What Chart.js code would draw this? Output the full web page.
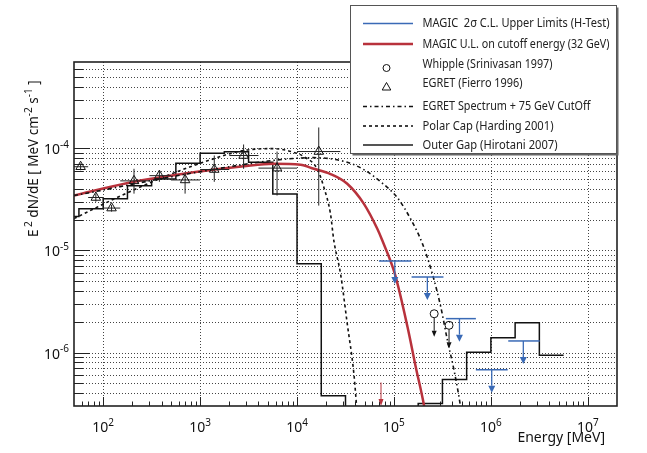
<!DOCTYPE html>
<html>
<head>
<meta charset="utf-8">
<script src="https://cdn.jsdelivr.net/npm/chart.js@4.4.1/dist/chart.umd.min.js"></script>
<style>
  html, body { margin: 0; padding: 0; background: #fff; }
</style>
</head>
<body>
<canvas id="sed" width="647" height="453"></canvas>
<script>
// Crab pulsar spectrum, energy in MeV, E^2 dN/dE in MeV cm^-2 s^-1

// EGRET (Fierro 1996)
const egretE   = [58.5, 84, 122, 208, 380, 700, 1400, 2810, 6220, 16750];
const egretF   = [6.6e-5, 3.3e-5, 2.6e-5, 4.8e-5, 5.4e-5, 4.9e-5, 6.2e-5, 8.5e-5, 6.4e-5, 9.3e-5];
const egretFLo = [6.1e-5, 3.0e-5, 2.4e-5, 3.6e-5, 4.7e-5, 3.6e-5, 4.7e-5, 6.3e-5, 3.45e-5, 2.75e-5];
const egretFHi = [7.1e-5, 3.6e-5, 2.8e-5, 6.3e-5, 6.05e-5, 5.8e-5, 8.5e-5, 1.09e-4, 9.3e-5, 1.6e-4];
const egretELo = [50, 70, 100, 150, 300, 500, 1000, 2000, 4000, 10000];
const egretEHi = [70, 100, 150, 300, 500, 1000, 2000, 4000, 10000, 28000];

// Whipple (Srinivasan 1997) upper limits
const whippleE = [2.6e5, 3.7e5];
const whippleF = [2.4e-6, 1.85e-6];

// MAGIC 2 sigma upper limits (H-Test)
const magicE   = [1.02e5, 2.21e5, 4.74e5, 1.02e6, 2.16e6];
const magicELo = [7.0e4, 1.52e5, 3.43e5, 7.0e5, 1.51e6];
const magicEHi = [1.51e5, 3.24e5, 7.0e5, 1.49e6, 3.19e6];
const magicF   = [7.9e-6, 5.5e-6, 2.15e-6, 6.8e-7, 1.3e-6];

// MAGIC U.L. on cutoff energy: arrow and curve
const cutoffArrowE = [7.35e4];
const cutoffArrowF = [5.1e-7];
const cutoffCurveE = [50, 175, 855, 2810, 5740, 10840, 14900, 22150, 32950, 48980, 67300, 75860, 1.02e5, 1.38e5, 1.68e5, 2.04e5, 2.3e5];
const cutoffCurveF = [3.45e-5, 4.55e-5, 5.82e-5, 6.67e-5, 7.05e-5, 6.89e-5, 6.3e-5, 5.6e-5, 4.5e-5, 2.86e-5, 1.63e-5, 1.25e-5, 5.92e-6, 1.78e-6, 7.2e-7, 3.05e-7, 1.5e-7];

// EGRET spectrum + 75 GeV cutoff
const egretCutE = [50, 100, 200, 500, 1000, 2000, 5000, 10000, 15000, 33000, 50000, 73000, 1.08e5, 1.5e5, 1.97e5, 2.49e5, 3.04e5, 3.56e5, 4.17e5, 4.8e5, 5.3e5];
const egretCutF = [3.45e-5, 3.9e-5, 4.45e-5, 5.25e-5, 5.9e-5, 6.6e-5, 7.5e-5, 8.0e-5, 8.1e-5, 7.3e-5, 6.1e-5, 4.7e-5, 3.3e-5, 2.0e-5, 1.16e-5, 5.9e-6, 2.8e-6, 1.32e-6, 6.7e-7, 3.2e-7, 1.6e-7];

// Polar Cap (Harding 2001)
const polarE = [50, 132, 386, 1000, 2790, 5700, 9180, 12000, 16130, 18900, 22130, 23970, 28110, 32960, 38570, 41100, 44000];
const polarF = [2.05e-5, 3.22e-5, 5.06e-5, 7.13e-5, 9.5e-5, 9.93e-5, 9.14e-5, 8.2e-5, 6.3e-5, 4.16e-5, 2.29e-5, 1.25e-5, 5.92e-6, 1.92e-6, 6.24e-7, 3.05e-7, 1.4e-7];

// Outer Gap (Hirotani 2007), histogram: bin edges and bin values
const outerGapEdges = [31.6, 56.2, 100, 178, 316, 562, 1000, 1778, 3162, 5623, 10000, 17783, 31623, 56234, 100000, 177828, 316228, 562341, 1000000, 1778279, 3162278, 5623413];
const outerGapF = [2.15e-5, 2.56e-5, 3.2e-5, 4.31e-5, 5.02e-5, 7.13e-5, 8.93e-5, 9.28e-5, 7.3e-5, 3.58e-5, 7.41e-6, 3.77e-7, 1e-9, 1e-9, 1e-9, 3.18e-7, 5.45e-7, 1.01e-6, 1.4e-6, 1.96e-6, 9.42e-7];

// axis ticks (decade exponents)
const xTickExps = ['2', '3', '4', '5', '6', '7'];
const yTickExps = ['-6', '-5', '-4'];

const legendLabels = [
  'MAGIC  2\u03c3 C.L. Upper Limits (H-Test)',
  'MAGIC U.L. on cutoff energy (32 GeV)',
  'Whipple (Srinivasan 1997)',
  'EGRET (Fierro 1996)',
  'EGRET Spectrum + 75 GeV CutOff',
  'Polar Cap (Harding 2001)',
  'Outer Gap (Hirotani 2007)'
];

const BLUE = '#3a6ab6';
const RED = '#b8323c';
const FONT = '"Noto Sans", "DejaVu Sans", sans-serif';

function pts(xs, ys) {
  return xs.map((x, i) => ({ x: x, y: ys[i] }));
}

const histPts = outerGapEdges.map((e, i) => ({ x: e, y: outerGapF[Math.min(i, outerGapF.length - 1)] }));

function drawRich(ctx, parts, x, y, size, align) {
  const sup = Math.round(size * 0.72);
  let w = 0;
  parts.forEach(p => {
    ctx.font = (p[1] ? sup : size) + 'px ' + FONT;
    w += ctx.measureText(p[0]).width;
  });
  let cx = align === 'center' ? x - w / 2 : (align === 'right' ? x - w : x);
  ctx.textAlign = 'left';
  ctx.textBaseline = 'alphabetic';
  parts.forEach(p => {
    ctx.font = (p[1] ? sup : size) + 'px ' + FONT;
    ctx.fillText(p[0], cx, p[1] ? y - size * 0.45 : y);
    cx += ctx.measureText(p[0]).width;
  });
}

function seg(ctx, x1, y1, x2, y2) {
  ctx.beginPath();
  ctx.moveTo(x1, y1);
  ctx.lineTo(x2, y2);
  ctx.stroke();
}

function arrowDown(ctx, x, y1, len, color, lw, hw, hl) {
  ctx.strokeStyle = color;
  ctx.fillStyle = color;
  ctx.lineWidth = lw;
  seg(ctx, x, y1, x, y1 + len - hl);
  ctx.beginPath();
  ctx.moveTo(x - hw, y1 + len - hl);
  ctx.lineTo(x + hw, y1 + len - hl);
  ctx.lineTo(x, y1 + len);
  ctx.closePath();
  ctx.fill();
}

const sedFrame = {
  id: 'sedFrame',
  beforeDatasetsDraw(chart) {
    const { ctx, chartArea: a, scales: { x, y } } = chart;
    ctx.save();
    ctx.strokeStyle = '#444';
    ctx.lineWidth = 1;
    ctx.setLineDash([1, 2]);
    xTickExps.forEach(ex => {
      const px = Math.round(x.getPixelForValue(Math.pow(10, +ex))) + 0.5;
      seg(ctx, px, a.top, px, a.bottom);
    });
    for (let n = -7; n <= -3; n++) {
      for (let m = 1; m <= 9; m++) {
        const v = m * Math.pow(10, n);
        if (v <= y.min * 1.001 || v >= y.max * 0.999) continue;
        const py = Math.round(y.getPixelForValue(v)) + 0.5;
        seg(ctx, a.left, py, a.right, py);
      }
    }
    ctx.setLineDash([]);
    // ticks
    ctx.strokeStyle = '#222';
    for (let n = -7; n <= -3; n++) {
      for (let m = 1; m <= 9; m++) {
        const v = m * Math.pow(10, n);
        if (v <= y.min * 1.001 || v >= y.max * 0.999) continue;
        const py = Math.round(y.getPixelForValue(v)) + 0.5;
        seg(ctx, a.left, py, a.left + (m === 1 ? 16 : 9), py);
      }
    }
    for (let n = 1; n <= 7; n++) {
      for (let m = 1; m <= 9; m++) {
        const v = m * Math.pow(10, n);
        if (v <= x.min * 1.001 || v >= x.max * 0.999) continue;
        const px = Math.round(x.getPixelForValue(v)) + 0.5;
        seg(ctx, px, a.bottom, px, a.bottom - (m === 1 ? 9 : 4.5));
      }
    }
    ctx.restore();
  },
  afterDatasetsDraw(chart) {
    const { ctx, chartArea: a, scales: { x, y } } = chart;
    ctx.save();
    ctx.beginPath();
    ctx.rect(a.left, a.top, a.right - a.left, a.bottom - a.top);
    ctx.clip();

    // EGRET error bars
    ctx.strokeStyle = '#222';
    ctx.lineWidth = 1;
    egretE.forEach((e, i) => {
      const px = x.getPixelForValue(e), py = y.getPixelForValue(egretF[i]);
      seg(ctx, x.getPixelForValue(egretELo[i]), py, x.getPixelForValue(egretEHi[i]), py);
      seg(ctx, px, y.getPixelForValue(egretFLo[i]), px, y.getPixelForValue(egretFHi[i]));
    });

    // MAGIC upper limits
    magicE.forEach((e, i) => {
      const py = y.getPixelForValue(magicF[i]);
      ctx.strokeStyle = BLUE;
      ctx.lineWidth = 1.5;
      seg(ctx, x.getPixelForValue(magicELo[i]), py, x.getPixelForValue(magicEHi[i]), py);
      arrowDown(ctx, x.getPixelForValue(e), py, 23, BLUE, 1.3, 3.5, 7);
    });

    // Whipple upper limit arrows
    whippleE.forEach((e, i) => {
      const py = y.getPixelForValue(whippleF[i]);
      arrowDown(ctx, x.getPixelForValue(e), py + 4, 19, '#111', 1, 2.5, 6);
    });

    // cutoff arrow
    cutoffArrowE.forEach((e, i) => {
      const py = y.getPixelForValue(cutoffArrowF[i]);
      arrowDown(ctx, x.getPixelForValue(e), py, a.bottom - py, RED, 1, 2.5, 7);
    });
    ctx.restore();

    ctx.save();
    // frame
    ctx.strokeStyle = '#222';
    ctx.lineWidth = 1.6;
    ctx.strokeRect(a.left, a.top, a.right - a.left, a.bottom - a.top);

    // tick labels
    ctx.fillStyle = '#111';
    xTickExps.forEach(ex => {
      drawRich(ctx, [['10', 0], [ex, 1]], x.getPixelForValue(Math.pow(10, +ex)), 432, 14, 'center');
    });
    yTickExps.forEach(ex => {
      drawRich(ctx, [['10', 0], [ex, 1]], 69, y.getPixelForValue(Math.pow(10, +ex)) + 6, 14, 'right');
    });

    // axis titles
    drawRich(ctx, [['Energy [MeV]', 0]], 605, 442, 14, 'right');
    ctx.save();
    ctx.translate(38, 237);
    ctx.rotate(-Math.PI / 2);
    drawRich(ctx, [['E', 0], [' 2', 1], [' dN/dE [ MeV cm', 0], ['-2', 1], [' s', 0], ['-1', 1], [' ]', 0]], 0, 0, 13.5, 'left');
    ctx.restore();

    // legend box
    const bx = 350.5, by = 5.5, bw = 266, bh = 148;
    ctx.fillStyle = '#666';
    ctx.fillRect(bx + 2, by + 2, bw, bh);
    ctx.fillStyle = '#fff';
    ctx.fillRect(bx, by, bw, bh);
    ctx.strokeStyle = '#555';
    ctx.lineWidth = 1;
    ctx.strokeRect(bx, by, bw, bh);

    const rowY = [23.5, 44, 64.5, 83, 106.5, 126, 145];
    const rowW = [187, 187, 130, 100, 168, 131, 135];
    const sx1 = 363, sx2 = 413, tx = 422.5;
    // samples
    ctx.strokeStyle = BLUE; ctx.lineWidth = 1.5;
    seg(ctx, sx1, rowY[0], sx2, rowY[0]);
    ctx.strokeStyle = RED; ctx.lineWidth = 2.5;
    seg(ctx, sx1, rowY[1], sx2, rowY[1]);
    ctx.strokeStyle = '#111'; ctx.lineWidth = 1;
    ctx.beginPath(); ctx.arc(386.5, 68, 3.5, 0, Math.PI * 2); ctx.stroke();
    ctx.beginPath();
    ctx.moveTo(386.5, 82.5); ctx.lineTo(390.8, 90); ctx.lineTo(382.2, 90); ctx.closePath(); ctx.stroke();
    ctx.lineWidth = 1.6;
    ctx.setLineDash([4, 3, 1.5, 3]);
    seg(ctx, sx1, rowY[4], sx2, rowY[4]);
    ctx.setLineDash([3, 3]);
    seg(ctx, sx1, rowY[5], sx2, rowY[5]);
    ctx.setLineDash([]);
    ctx.strokeStyle = '#555'; ctx.lineWidth = 2;
    seg(ctx, sx1, rowY[6], sx2, rowY[6]);

    ctx.fillStyle = '#222';
    ctx.font = '12.5px ' + FONT;
    ctx.textAlign = 'left';
    ctx.textBaseline = 'middle';
    legendLabels.forEach((t, i) => ctx.fillText(t, tx, rowY[i], rowW[i]));
    ctx.restore();
  }
};

new Chart(document.getElementById('sed'), {
  type: 'scatter',
  data: {
    datasets: [
      {
        label: 'EGRET (Fierro 1996)',
        data: pts(egretE, egretF),
        pointStyle: 'triangle',
        pointRadius: 5.5,
        borderColor: '#111',
        backgroundColor: 'rgba(0,0,0,0)',
        borderWidth: 1
      },
      {
        label: 'Whipple (Srinivasan 1997)',
        data: pts(whippleE, whippleF),
        pointStyle: 'circle',
        pointRadius: 4,
        borderColor: '#111',
        backgroundColor: 'rgba(0,0,0,0)',
        borderWidth: 1
      },
      {
        label: 'EGRET Spectrum + 75 GeV CutOff',
        data: pts(egretCutE, egretCutF),
        showLine: true,
        pointRadius: 0,
        borderColor: '#111',
        borderWidth: 1.6,
        borderDash: [4, 3, 1.5, 3],
        cubicInterpolationMode: 'monotone'
      },
      {
        label: 'MAGIC U.L. on cutoff energy (32 GeV)',
        data: pts(cutoffCurveE, cutoffCurveF),
        showLine: true,
        pointRadius: 0,
        borderColor: RED,
        borderWidth: 2.5,
        cubicInterpolationMode: 'monotone'
      },
      {
        label: 'Polar Cap (Harding 2001)',
        data: pts(polarE, polarF),
        showLine: true,
        pointRadius: 0,
        borderColor: '#111',
        borderWidth: 1.6,
        borderDash: [3, 3],
        cubicInterpolationMode: 'monotone'
      },
      {
        label: 'Outer Gap (Hirotani 2007)',
        data: histPts,
        showLine: true,
        stepped: true,
        pointRadius: 0,
        borderColor: '#111',
        borderWidth: 1.5
      }
    ]
  },
  options: {
    responsive: false,
    animation: false,
    layout: { padding: { left: 74, right: 30, top: 62, bottom: 47 } },
    scales: {
      x: { type: 'logarithmic', min: 50, max: 2e7, display: false },
      y: { type: 'logarithmic', min: 3e-7, max: 7e-4, display: false }
    },
    plugins: {
      legend: { display: false },
      tooltip: { enabled: false }
    }
  },
  plugins: [sedFrame]
});
</script>
</body>
</html>
